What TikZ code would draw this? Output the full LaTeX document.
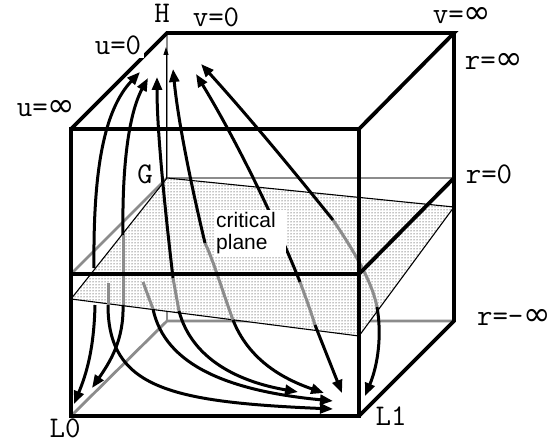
\documentclass[tikz,border=0pt]{standalone}
\usepackage{fontspec}
\setsansfont{Liberation Sans}
\newfontfamily\symfnt{DejaVu Sans}
\usetikzlibrary{arrows.meta,patterns}
\newcommand\infsym{{\symfnt\fontsize{33}{33}\selectfont ∞}}
\tikzset{
  frontedge/.style={line width=3.8pt, black, line join=miter},
  backedge/.style={line width=2.8pt, black!45},
  planeedge/.style={line width=1.1pt, black},
  traj/.style={line width=3pt, black, -{Triangle[length=13pt,width=10pt]}},
  trajgrey/.style={line width=3pt, black!45},
  lab/.style={font=\ttfamily\fontsize{30}{30}\selectfont, inner sep=0pt},
  thinarrow/.style={line width=0.9pt, black, -{Triangle[length=8pt,width=5pt]}}
}
\begin{document}
\begin{tikzpicture}[x=1pt,y=-1pt]
\useasboundingbox (0,0) rectangle (560,444);
\fill[white] (0,0) rectangle (560,444);
% cube corners
\coordinate (FTL) at (71,129);
\coordinate (FTR) at (359,129);
\coordinate (FBL) at (71,416);
\coordinate (FBR) at (359,416);
\coordinate (FML) at (71,274);
\coordinate (FMR) at (359,274);
\coordinate (BTL) at (167,33);
\coordinate (BTR) at (454,33);
\coordinate (BML) at (167,178);
\coordinate (BMR) at (454,178);
\coordinate (BBL) at (167,321);
\coordinate (BBR) at (454,321);
% plane corners
\coordinate (P1) at (167,178);
\coordinate (P2) at (454,207);
\coordinate (P3) at (359,336);
\coordinate (P4) at (71,299);
% hidden edges
\draw[backedge] (BTL) -- (BBL);
\draw[backedge] (BML) -- (BMR);
\draw[backedge] (FML) -- (BML);
\draw[backedge] (FBL) -- (BBL) -- (BBR);
% critical plane
\fill[white] (P1) -- (P2) -- (P3) -- (P4) -- cycle;
\fill[pattern=dots, pattern color=black] (P1) -- (P2) -- (P3) -- (P4) -- cycle;
\draw[planeedge] (P1) -- (P2) -- (P3) -- (P4) -- cycle;
% G to H
\coordinate (Gs) at (166,178);
\coordinate (Ht) at (166,47);
\draw[thinarrow] (Gs) -- (Ht);
% trajectory points
\coordinate (a1u) at (94,268);   \coordinate (a1t) at (140,72);
\coordinate (a1l) at (95,305);   \coordinate (a1b) at (74,404);
\coordinate (a2u) at (123,235);  \coordinate (a2t) at (148,78);
\coordinate (a2l) at (123,305);  \coordinate (a2b) at (92,388);
\coordinate (c2u) at (108,283);  \coordinate (c2l) at (108,305);  \coordinate (c2b) at (333,409);
\coordinate (a3u) at (173,278);  \coordinate (a3t) at (157,77);
\coordinate (a3l) at (179,311);  \coordinate (a3b) at (298,392);
\coordinate (c4u) at (143,282);  \coordinate (c4l) at (153,309);  \coordinate (c4b) at (333,401);
\coordinate (a4u) at (205,243);  \coordinate (a4t) at (173,69);
\coordinate (a4l) at (233,320);  \coordinate (a4b) at (324,393);
\coordinate (a5u) at (300,282);  \coordinate (a5t) at (196,74);
\coordinate (a5l) at (315,325);  \coordinate (a5b) at (342,393);
\coordinate (a6u) at (333,220);  \coordinate (a6t) at (201,64);
\coordinate (a6l) at (377,307);  \coordinate (a6b) at (365,396);
% grey parts
\draw[trajgrey] (a2u) -- (a2l);
\draw[trajgrey] (c2u) -- (c2l);
\draw[trajgrey] (a3u) -- (a3l);
\draw[trajgrey] (c4u) -- (c4l);
\draw[trajgrey] (a4u) .. controls (214,262) and (222,290) .. (a4l);
\draw[trajgrey] (a5u) .. controls (306,298) and (311,312) .. (a5l);
\draw[trajgrey] (a6u) .. controls (350,245) and (372,280) .. (a6l);
% black parts upward
\draw[traj] (a1u) .. controls (93,170) and (104,110) .. (a1t);
\draw[traj] (a2u) .. controls (122,170) and (128,115) .. (a2t);
\draw[traj] (a3u) .. controls (164,200) and (157,130) .. (a3t);
\draw[traj] (a4u) .. controls (190,180) and (178,120) .. (a4t);
\draw[traj] (a5u) .. controls (272,212) and (232,133) .. (a5t);
\draw[traj] (a6u) .. controls (296,174) and (250,118) .. (a6t);
% black parts downward
\draw[traj] (a1l) .. controls (94,350) and (86,375) .. (a1b);
\draw[traj] (a2l) .. controls (124,340) and (110,362) .. (a2b);
\draw[traj] (c2l) .. controls (108,388) and (170,402) .. (c2b);
\draw[traj] (a3l) .. controls (192,360) and (240,382) .. (a3b);
\draw[traj] (c4l) .. controls (165,366) and (230,391) .. (c4b);
\draw[traj] (a4l) .. controls (248,358) and (280,378) .. (a4b);
\draw[traj] (a5l) -- (a5b);
\draw[traj] (a6l) .. controls (382,335) and (378,365) .. (a6b);
% front edges
\draw[frontedge] (FTL) rectangle (FBR);
\draw[frontedge] (FML) -- (FMR);
\draw[frontedge] (FTL) -- (BTL) -- (BTR) -- (FTR);
\draw[frontedge] (BTR) -- (BBR) -- (FBR);
\draw[frontedge] (FMR) -- (BMR);
% labels
\node[lab, anchor=base] (lH) at (162,23) {H};
\node[lab, anchor=base] (lv0) at (216,27) {v=0};
\node[lab, anchor=base] (lvi) at (462,24) {v=\infsym};
\node[lab, anchor=base] (lri) at (494,70) {r=\infsym};
\node[lab, anchor=base] (lr0) at (489,183) {r=0};
\node[lab, anchor=base] (lrm) at (514,325) {r=-\infsym};
\node[lab, anchor=base, fill=white, inner sep=3pt] (lu0) at (118,55) {u=0};
\node[lab, anchor=base] (lui) at (46,117) {u=\infsym};
\node[lab, anchor=base] (lG) at (145,183) {G};
\node[lab, anchor=base] (lL0) at (65,437) {L0};
\node[lab, anchor=base] (lL1) at (391,425) {L1};
\node[fill=white, anchor=north west, inner xsep=2pt, inner ysep=2pt, text width=68pt, align=left,
      font=\sffamily\fontsize{21}{22}\selectfont] (cp) at (214,210) {critical\\plane};
\end{tikzpicture}
\end{document}
